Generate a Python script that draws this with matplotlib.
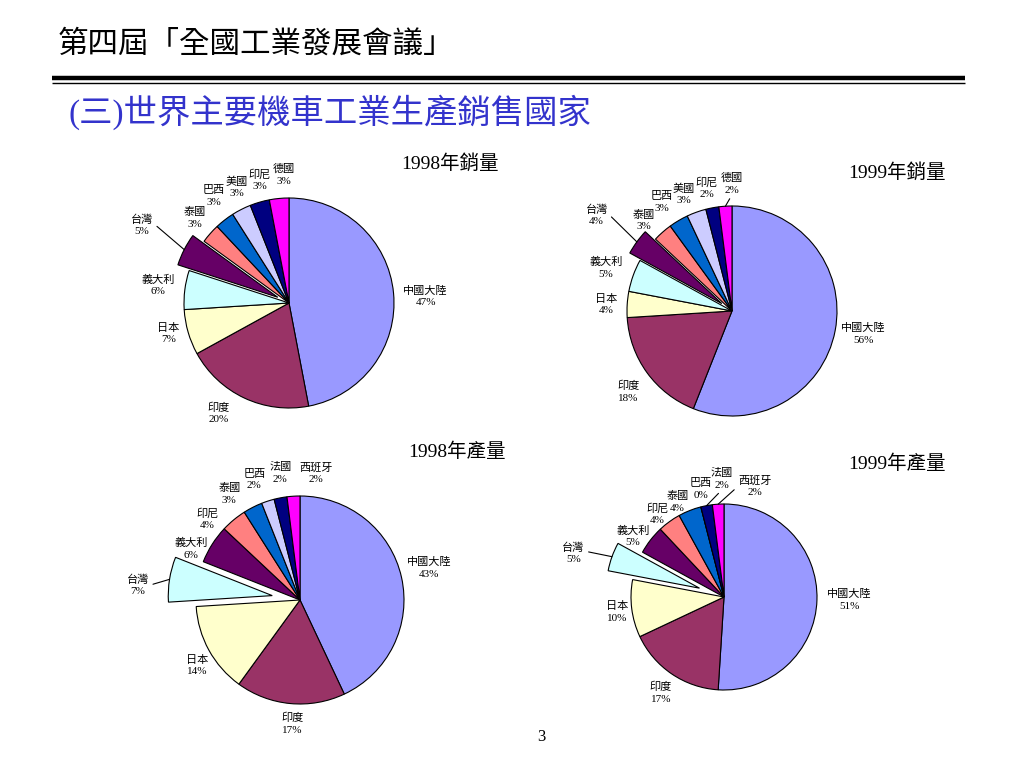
import numpy as np
import matplotlib
matplotlib.use('Agg')
import matplotlib.pyplot as plt

plt.rcParams['font.family'] = ['Liberation Serif', 'Noto Sans CJK TC']

# slice colours, same order for all four pies (clockwise from 12 o'clock)
colors = ['#9999FF', '#993366', '#FFFFCC', '#CCFFFF', '#660066',
          '#FF8080', '#0066CC', '#CCCCFF', '#000080', '#FF00FF']

sales_names = ['中國大陸', '印度', '日本', '義大利', '台灣',
               '泰國', '巴西', '美國', '印尼', '德國']
sales_1998 = [47, 20, 7, 6, 5, 3, 3, 3, 3, 3]
sales_1999 = [56, 18, 4, 5, 4, 3, 3, 3, 2, 2]

prod_names = ['中國大陸', '印度', '日本', '台灣', '義大利',
              '印尼', '泰國', '巴西', '法國', '西班牙']
prod_1998 = [43, 17, 14, 7, 6, 4, 3, 2, 2, 2]
prod_1999 = [51, 17, 10, 5, 5, 4, 4, 0, 2, 2]

H = 768

def P(x, y):
    # page pixels (y down) -> axes coords (y up)
    return x, H - y

# layout: label offsets in radius units (x right, y up)
charts = [
    dict(title='1998年銷量', title_pos=(450, 163), names=sales_names, values=sales_1998,
         center=(289, 303), radius=105, explode_idx=4, explode=0.12,
         offs=[(1.30, 0.06), (-0.67, -1.05), (-1.15, -0.29), (-1.25, 0.17), (-1.40, 0.74),
               (-0.90, 0.81), (-0.72, 1.02), (-0.50, 1.10), (-0.28, 1.17), (-0.05, 1.22)],
         leaders={4: (1.0, 0.6)}),
    dict(title='1999年銷量', title_pos=(897, 172), names=sales_names, values=sales_1999,
         center=(732, 311), radius=105, explode_idx=4, explode=0.12,
         offs=[(1.25, -0.22), (-0.99, -0.77), (-1.20, 0.06), (-1.20, 0.41), (-1.29, 0.91),
               (-0.84, 0.86), (-0.67, 1.04), (-0.46, 1.11), (-0.24, 1.17), (0.00, 1.21)],
         leaders={4: (1.0, 0.6), 9: (0.5, 0.0)}),
    dict(title='1998年產量', title_pos=(457, 452), names=prod_names, values=prod_1998,
         center=(300, 600), radius=104, explode_idx=3, explode=0.27,
         offs=[(1.24, 0.31), (-0.07, -1.19), (-0.99, -0.63), (-1.56, 0.14), (-1.05, 0.49),
               (-0.89, 0.78), (-0.68, 1.02), (-0.44, 1.16), (-0.19, 1.22), (0.15, 1.22)],
         leaders={3: (1.0, 0.5)}),
    dict(title='1999年產量', title_pos=(897, 464), names=prod_names, values=prod_1999,
         center=(724, 597), radius=93, explode_idx=3, explode=0.28,
         offs=[(1.35, -0.03), (-0.68, -1.03), (-1.15, -0.16), (-1.62, 0.47), (-0.98, 0.65),
               (-0.72, 0.89), (-0.50, 1.02), (-0.25, 1.16), (-0.02, 1.27), (0.33, 1.19)],
         leaders={3: (1.0, 0.6), 8: (0.5, 0.0), 9: (0.0, 0.5)}),
]

fig = plt.figure(figsize=(10.24, 7.68), dpi=100)
ax = fig.add_axes([0, 0, 1, 1])
ax.set_xlim(0, 1024)
ax.set_ylim(0, H)
ax.set_aspect('equal')
ax.axis('off')

# header
ax.text(*P(58, 45), '第四屆「全國工業發展會議」', fontsize=22, ha='left', va='center')
ax.plot([52, 965], [H - 78, H - 78], color='black', lw=3.2, solid_capstyle='butt')
ax.plot([52, 965], [H - 83, H - 83], color='black', lw=1.0, solid_capstyle='butt')
ax.text(*P(68, 112), '(三)世界主要機車工業生產銷售國家', fontsize=24, color='#3333CC',
        ha='left', va='center')
ax.text(*P(541, 737), '3', fontsize=12, ha='center', va='center')

for c in charts:
    n = len(c['values'])
    r = c['radius']
    # pie's explode is in data units, so scale by the radius
    explode = [c['explode'] * r if i == c['explode_idx'] else 0 for i in range(n)]
    cx, cy = P(*c['center'])
    wedges, _ = ax.pie(c['values'], colors=colors, explode=explode, startangle=90,
                       counterclock=False, center=(cx, cy), radius=r,
                       wedgeprops=dict(edgecolor='black', linewidth=0.8))
    ax.text(*P(*c['title_pos']), c['title'], fontsize=14, ha='center', va='center')
    for i, (name, v) in enumerate(zip(c['names'], c['values'])):
        ox, oy = c['offs'][i]
        pos = (cx + ox * r, cy + oy * r)
        label = f'{name}\n{v}%'
        if i in c['leaders']:
            w = wedges[i]
            mid = np.deg2rad((w.theta1 + w.theta2) / 2)
            tip = (w.center[0] + w.r * np.cos(mid), w.center[1] + w.r * np.sin(mid))
            ax.annotate(label, xy=tip, xytext=pos, fontsize=8, ha='center', va='center',
                        linespacing=1.35,
                        arrowprops=dict(arrowstyle='-', lw=0.8, color='black',
                                        relpos=c['leaders'][i], shrinkA=1, shrinkB=0))
        else:
            ax.text(*pos, label, fontsize=8, ha='center', va='center', linespacing=1.35)

ax.set_xlim(0, 1024)
ax.set_ylim(0, H)
fig.savefig('out.png', dpi=100)
